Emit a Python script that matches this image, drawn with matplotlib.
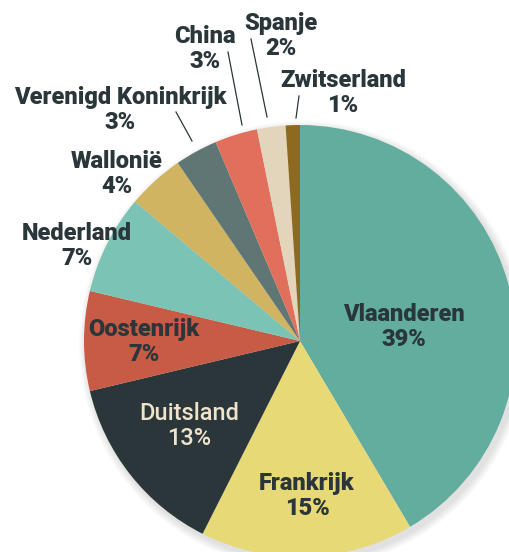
import matplotlib
matplotlib.use("Agg")
import matplotlib.pyplot as plt
from matplotlib import font_manager
from matplotlib.patches import Circle

# Export share per market (percent)
countries = ["Vlaanderen", "Frankrijk", "Duitsland", "Oostenrijk", "Nederland",
             "Wallonië", "Verenigd Koninkrijk", "China", "Spanje", "Zwitserland"]
shares = [39, 15, 13, 7, 7, 4, 3, 3, 2, 1]

colors = ["#62AD9E", "#E8D977", "#2A3639", "#C85B45", "#7BC3B4",
          "#D1B461", "#607675", "#E0705B", "#E2D5BB", "#8E6A21"]
text_colors = ["#2A3639", "#2A3639", "#EFE3CB", "#2A3639", "#2A3639",
               "#2A3639", "#2A3639", "#2A3639", "#2A3639", "#2A3639"]

W, H = 509, 552


def px(x, y):
    """Pixel position (origin top-left) to data coordinates."""
    return x, H - y


# label centres in pixel space
label_pos = [(404, 327), (307, 496), (189, 426), (144, 342), (77, 246),
             (117, 174), (120, 110), (205, 49), (281, 36), (343, 93)]
# leader lines for the small outside labels: (start, end) in pixel space
leaders = {6: ((176, 112), (192, 141)),
           7: ((228, 52), (242, 125)),
           8: ((251, 39), (267, 117)),
           9: ((299, 96), (296, 118))}

# heaviest Roboto weight on the system
roboto_weights = [f.weight for f in font_manager.fontManager.ttflist
                  if f.name == "Roboto"]
if roboto_weights:
    family = "Roboto"
    weight = max(w if isinstance(w, int) else 700 for w in roboto_weights)
else:
    family = "DejaVu Sans"
    weight = "bold"

fig = plt.figure(figsize=(W / 100, H / 100), dpi=100)
ax = fig.add_axes([0, 0, 1, 1])

cx, cy = px(300, 341)
R = 216

# soft drop shadow behind the pie
for k in range(10):
    ax.add_patch(Circle((cx + 3, cy - 4), R + 1 + k * 0.8, color="black",
                        alpha=0.012, lw=0, zorder=0))

ax.pie(shares, colors=colors, startangle=90, counterclock=False,
       center=(cx, cy), radius=R, frame=True,
       wedgeprops=dict(linewidth=0, antialiased=True))
ax.set_xlim(0, W)
ax.set_ylim(0, H)
ax.set_aspect("equal")
ax.axis("off")

for i, (name, val) in enumerate(zip(countries, shares)):
    x, y = px(*label_pos[i])
    w = "medium" if name == "Duitsland" else weight
    ax.text(x, y, f"{name}\n{val}%", ha="center", va="center",
            multialignment="center", fontsize=17, fontweight=w,
            family=family, color=text_colors[i],
            linespacing=1.12, zorder=5)

for i, (p0, p1) in leaders.items():
    x0, y0 = px(*p0)
    x1, y1 = px(*p1)
    ax.plot([x0, x1], [y0, y1], color="#2A3639", lw=0.9, zorder=4)

fig.savefig("out.png", dpi=100, facecolor="white")
